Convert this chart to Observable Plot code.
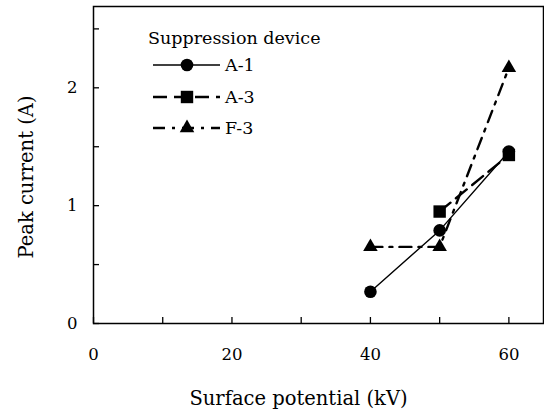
<!DOCTYPE html>
<html><head><meta charset="utf-8">
<script src="https://cdn.jsdelivr.net/npm/d3@7"></script>
<script src="https://cdn.jsdelivr.net/npm/@observablehq/plot@0.6"></script>
<style>
body{margin:0;background:#fff;}
#chart{position:relative;width:544px;height:410px;}
#legend{position:absolute;left:0;top:0;}
</style></head><body><div id="chart"></div>
<script>
// ---- data ----
const potentials = [40, 50, 60];
const seriesNames = ["A-1", "A-3", "F-3"];
const valuesA1 = [0.27, 0.79, 1.46];
const valuesA3 = [null, 0.95, 1.43];
const valuesF3 = [0.65, 0.65, 2.17];
const xTicks = [0, 10, 20, 30, 40, 50, 60];
const xTickLabels = [0, 20, 40, 60];
const yTicks = [0, 0.5, 1, 1.5, 2, 2.5];
const yTickLabels = [0, 1, 2];
const xTitle = "Surface potential (kV)";
const yTitle = "Peak current (A)";
const legendTitle = "Suppression device";

const allValues = [valuesA1, valuesA3, valuesF3];
const styles = {
  "A-1": {dash: null, symbol: "circle", width: 1.4, r: 6.3},
  "A-3": {dash: "14,7", symbol: "square", width: 2.4, r: 7},
  "F-3": {dash: "12,7,3,7", symbol: "triangle", width: 2.4, r: 5.4}
};
const rows = [];
seriesNames.forEach((s, i) => potentials.forEach((x, j) => {
  const v = allValues[i][j];
  if (v != null) rows.push({series: s, x, y: v});
}));

const font = '"DejaVu Serif", serif';
const lineMarks = seriesNames.map(s => Plot.line(rows.filter(r => r.series === s), {
  x: "x", y: "y", stroke: "black", strokeWidth: styles[s].width,
  strokeDasharray: styles[s].dash
}));
const dotMarks = seriesNames.map(s => Plot.dot(rows.filter(r => r.series === s), {
  x: "x", y: "y", fill: "black", stroke: "none",
  symbol: styles[s].symbol, r: styles[s].r
}));

const plot = Plot.plot({
  width: 544, height: 410,
  marginLeft: 93, marginRight: 1, marginTop: 6, marginBottom: 87,
  style: {fontFamily: font, fontSize: "16.5px", color: "black", background: "white"},
  x: {domain: [0, 65]},
  y: {domain: [0, 2.69]},
  marks: [
    Plot.frame({stroke: "black", strokeWidth: 1.5}),
    Plot.axisX({ticks: xTicks, tickSize: 6, dy: -6, fill: "none", strokeWidth: 1.3, label: null}),
    Plot.axisY({ticks: yTicks, tickSize: 6, dx: 6, fill: "none", strokeWidth: 1.3, label: null}),
    Plot.axisX({ticks: xTickLabels, tickSize: 0, tickPadding: 25, tickFormat: d3.format("d"), label: null}),
    Plot.axisY({ticks: yTickLabels, tickSize: 0, tickPadding: 16, tickFormat: d3.format("d"), label: null}),
    Plot.text([xTitle], {frameAnchor: "bottom", textAnchor: "middle", lineAnchor: "bottom", dx: -20, dy: 81, fontSize: 19.5}),
    Plot.text([yTitle], {frameAnchor: "left", textAnchor: "middle", rotate: -90, dx: -67, dy: 12, fontSize: 19.5}),
    ...lineMarks,
    ...dotMarks
  ]
});
const chart = document.getElementById("chart");
chart.appendChild(plot);

// ---- legend overlay ----
const leg = d3.select(chart).append("svg").attr("id", "legend")
  .attr("width", 544).attr("height", 410)
  .style("font-family", font).style("font-size", "17.5px");
leg.append("text").attr("x", 148).attr("y", 38).attr("dy", "0.35em").text(legendTitle);
const rowY = [65, 97, 128];
const symbols = {circle: d3.symbolCircle, square: d3.symbolSquare, triangle: d3.symbolTriangle};
seriesNames.forEach((s, i) => {
  const st = styles[s];
  const g = leg.append("g").attr("transform", `translate(0,${rowY[i]})`);
  g.append("line").attr("x1", 153).attr("x2", 220).attr("stroke", "black")
    .attr("stroke-width", st.width).attr("stroke-dasharray", st.dash);
  g.append("path").attr("transform", "translate(187,0)")
    .attr("d", d3.symbol(symbols[st.symbol], Math.PI * st.r * st.r)()).attr("fill", "black");
  g.append("text").attr("x", 225).attr("dy", "0.35em").text(s);
});
</script></body></html>
